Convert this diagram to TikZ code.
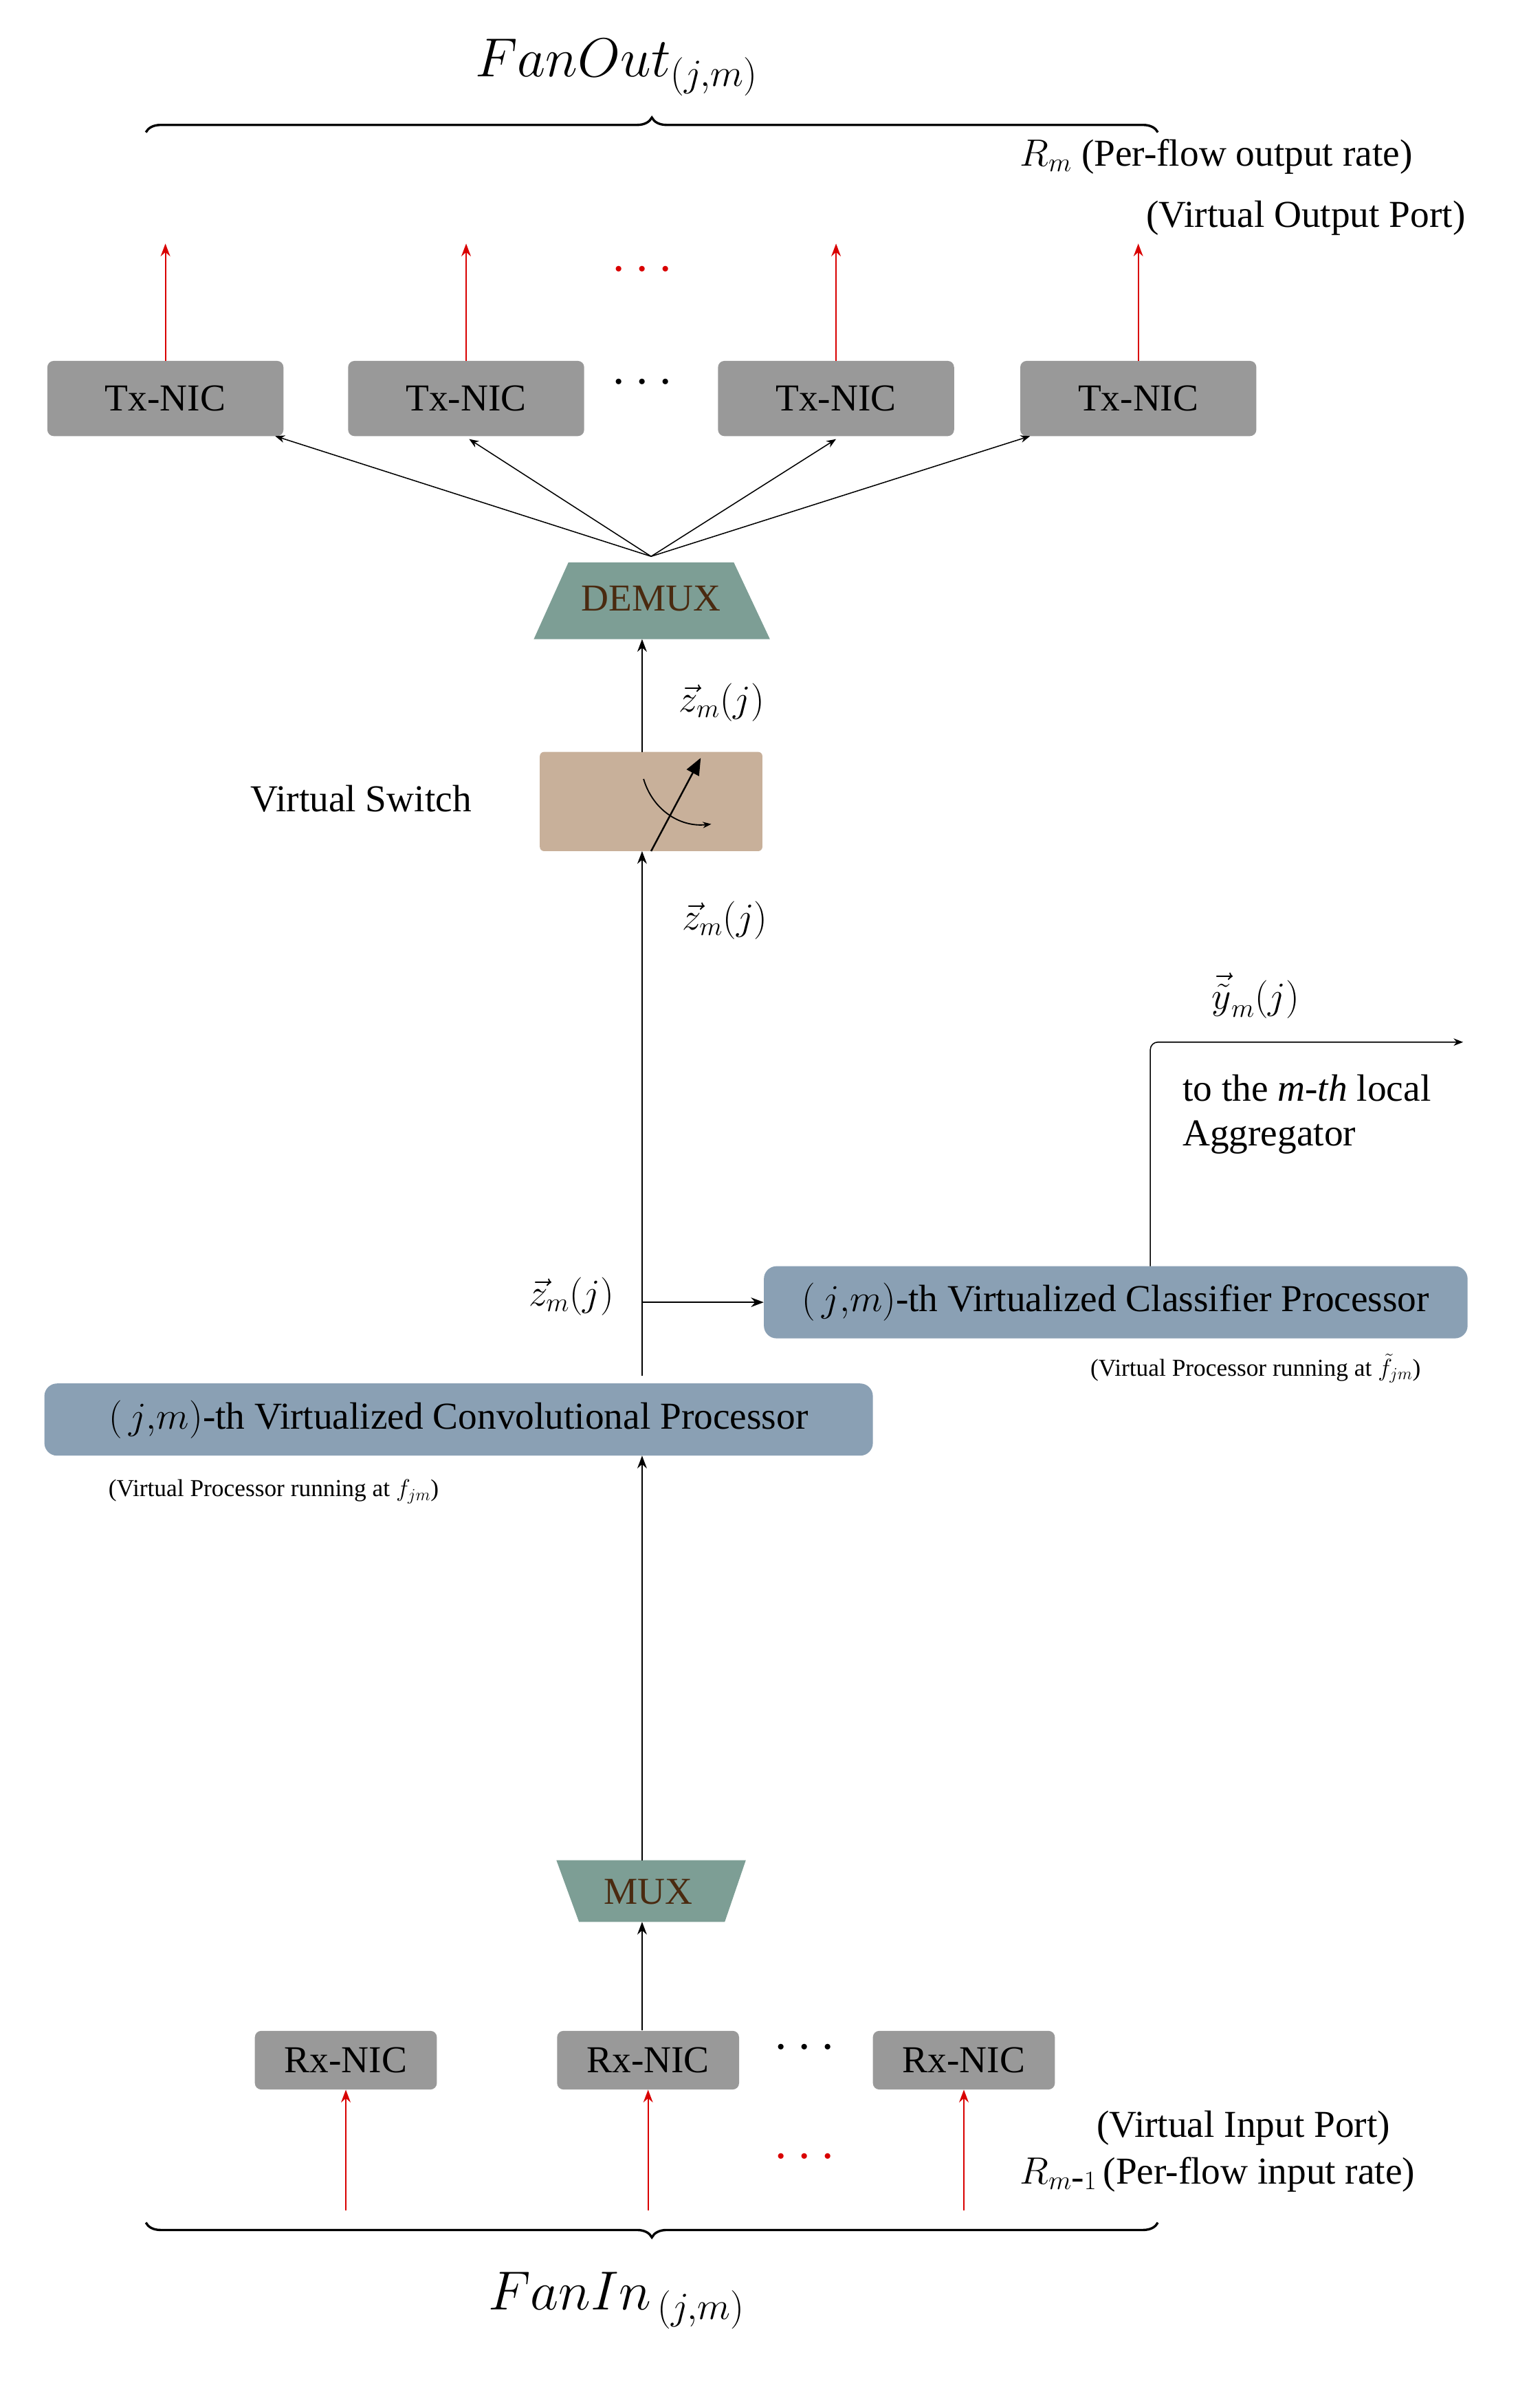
\documentclass[tikz,border=0pt]{standalone}
\usepackage{fix-cm}
\usepackage{fontspec}
\setmainfont{Liberation Serif}
\usetikzlibrary{shapes.geometric,decorations.pathreplacing,arrows.meta}
\definecolor{nic}{HTML}{999999}
\definecolor{mux}{HTML}{7D9E95}
\definecolor{sw}{HTML}{C8B09A}
\definecolor{proc}{HTML}{8AA0B4}
\definecolor{txt}{HTML}{4A2A10}
\begin{document}
\begin{tikzpicture}[x=0.05cm,y=-0.05cm,
 big/.style={font=\fontsize{36}{42}\selectfont},
 small/.style={font=\fontsize{23}{27}\selectfont},
 box/.style={fill=nic,rounded corners=6pt,minimum width=7.85cm,minimum height=2.5cm,big},
 rbox/.style={fill=nic,rounded corners=6pt,minimum width=6.05cm,minimum height=1.95cm,big},
 pbox/.style={fill=proc,rounded corners=12pt,minimum height=2.4cm,big},
 ar/.style={-{Stealth[length=12pt,width=9pt]},line width=1.2pt},
 rar/.style={ar,red!85!black},
 tar/.style={-{Stealth[length=9pt,width=7pt]},line width=1pt}]
\useasboundingbox (0,0) rectangle (1024,1592);
% top brace
\draw[line width=2.2pt,decorate,decoration={brace,amplitude=14pt}] (97,88) -- (770,88);
\node[font=\fontsize{52}{58}\selectfont] (fo) at (410,45) {$FanOut_{(j,m)}$};
\node[big,anchor=west] (rm) at (676,104) {$R_m$ (Per-flow output rate)};
\node[big,anchor=east] (vop) at (977,145) {(Virtual Output Port)};
% Tx NICs
\foreach \i/\x in {1/110,2/310,3/556,4/757}{
 \node[box] (tx\i) at (\x,265) {Tx-NIC};
 \coordinate (to\i) at (\x,162);
 \draw[rar] (tx\i.north) -- (to\i);}
\node[font=\fontsize{50}{50}\selectfont,red!85!black] (rd1) at (427,180) {$\cdots$};
\node[font=\fontsize{50}{50}\selectfont] (bd1) at (427,255) {$\cdots$};
% DEMUX
\fill[mux] (378,374) -- (488,374) -- (512,425) -- (355,425) -- cycle;
\node[big,text=txt] (demux) at (433,398) {DEMUX};
\coordinate (dt) at (433,370);
\draw[tar] (dt) -- (183,290);
\draw[tar] (dt) -- (312,292);
\draw[tar] (dt) -- (556,292);
\draw[tar] (dt) -- (685,290);
% switch
\node[fill=sw,rounded corners=4pt,minimum width=7.4cm,minimum height=3.3cm] (sw) at (433,533) {};
\node[big,anchor=east] (swl) at (316,531) {Virtual Switch};
\draw[line width=1.6pt,-{Triangle[length=16pt,width=13pt]}] (433,566) -- (466,504);
\draw[line width=1.2pt,-{Stealth[length=8pt]}] (428,518) to[bend right=40] (473,548);
\draw[ar] (427,915) -- (427,566);
\draw[ar] (427,500) -- (427,425);
\node[big] (z1) at (480,467) {$\vec z_m(j)$};
\node[big] (z2) at (482,612) {$\vec z_m(j)$};
\node[big] (z3) at (380,862) {$\vec z_m(j)$};
% classifier
\node[pbox,minimum width=23.4cm] (cls) at (742,866) {$(\,j{,}m)$-th Virtualized Classifier Processor};
\draw[ar] (427,866) -- (cls.west);
\coordinate (ag) at (973,693);
\draw[tar] (765,842) -- (765,698) to[out=90,in=180] (770,693) -- (ag);
\node[big] (y) at (835,662) {$\vec{\tilde y}_m(j)$};
\node[big,anchor=west,align=left] (agl) at (784,741) {to the \textit{m-th} local\\Aggregator};
\node[small] (vp2) at (835,910) {(Virtual Processor running at $\tilde f_{jm}$)};
% conv
\node[pbox,minimum width=27.55cm] (conv) at (305,944) {$(\,j{,}m)$-th Virtualized Convolutional Processor};
\node[small] (vp1) at (182,992) {(Virtual Processor running at $f_{jm}$)};
% MUX
\fill[mux] (370,1237) -- (496,1237) -- (482,1278) -- (385,1278) -- cycle;
\node[big,text=txt] (mux) at (431,1258) {MUX};
\draw[ar] (427,1237) -- (427,968);
% Rx
\foreach \i/\x in {1/230,2/431,3/641}{
 \node[rbox] (rx\i) at (\x,1370) {Rx-NIC};
 \coordinate (ri\i) at (\x,1470);
 \draw[rar] (ri\i) -- (rx\i.south);}
\draw[ar] (427,1350) -- (427,1278);
\node[font=\fontsize{50}{50}\selectfont] (bd2) at (535,1362) {$\cdots$};
\node[font=\fontsize{50}{50}\selectfont,red!85!black] (rd2) at (535,1435) {$\cdots$};
\node[big,anchor=east] (vip) at (927,1415) {(Virtual Input Port)};
\node[big,anchor=west] (rm1) at (676,1446) {$R_{m\mbox{-}1}$\,(Per-flow input rate)};
% bottom brace
\draw[line width=2.2pt,decorate,decoration={brace,amplitude=14pt,mirror}] (97,1478) -- (770,1478);
\node[font=\fontsize{52}{58}\selectfont] (fi) at (410,1530) {$FanIn_{\,(j,m)}$};
\end{tikzpicture}
\end{document}
